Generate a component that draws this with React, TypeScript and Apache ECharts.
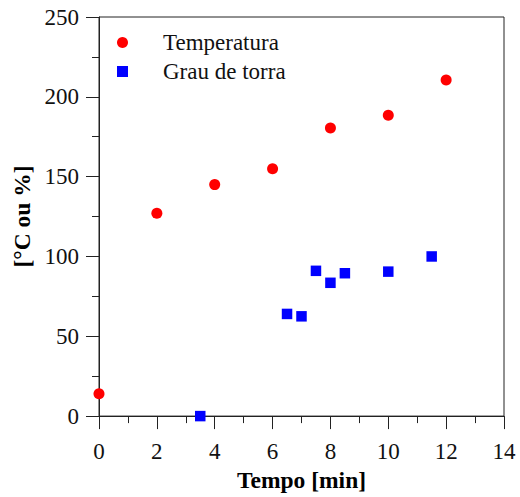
import React, { useEffect, useRef } from "react";
import * as echarts from "echarts";

const tempX = [0, 2, 4, 6, 8, 10, 12];
const tempY = [14, 127, 145, 155, 180.5, 188.5, 210.5];
const grauX = [3.5, 6.5, 7, 7.5, 8, 8.5, 10, 11.5];
const grauY = [0, 64, 62.5, 91, 83.5, 89.5, 90.5, 100];
const seriesNames = ["Temperatura", "Grau de torra"];
const xTitle = "Tempo [min]";
const yTitle = "[°C ou %]";

const FONT = "'Times New Roman', 'Liberation Serif', serif";
const AX = "#222";

export default function App() {
  const ref = useRef<HTMLDivElement>(null);
  useEffect(() => {
    if (!ref.current) return;
    const chart = echarts.init(ref.current, null, { renderer: "svg" });
    const axisCommon = {
      axisLine: { show: true, lineStyle: { color: AX, width: 1 } },
      axisTick: { show: true, inside: false, length: 13, lineStyle: { color: AX, width: 1 } },
      minorTick: { show: true, splitNumber: 2, length: 7, lineStyle: { color: AX, width: 1 } },
      splitLine: { show: false },
      minorSplitLine: { show: false },
      axisLabel: { color: "#111", fontFamily: FONT, fontSize: 23, margin: 20 },
      nameTextStyle: { color: "#000", fontFamily: FONT, fontSize: 23.5, fontWeight: "bold" },
    };
    chart.setOption({
      animation: false,
      grid: {
        left: 99,
        right: 16,
        top: 17,
        bottom: 74,
        show: true,
        borderColor: AX,
        borderWidth: 1,
        backgroundColor: "transparent",
      },
      legend: {
        orient: "vertical",
        left: 112,
        top: 26,
        itemWidth: 11,
        itemHeight: 11,
        itemGap: 6,
        textStyle: {
          fontFamily: FONT,
          fontSize: 23,
          color: "#111",
          lineHeight: 22,
          padding: [0, 0, 0, 30],
        },
        data: [
          { name: seriesNames[0], icon: "circle" },
          { name: seriesNames[1], icon: "rect" },
        ],
      },
      xAxis: {
        type: "value",
        min: 0,
        max: 14,
        interval: 2,
        name: xTitle,
        nameLocation: "middle",
        nameGap: 51,
        ...axisCommon,
        axisLabel: { ...axisCommon.axisLabel, margin: 24 },
      },
      yAxis: {
        type: "value",
        min: 0,
        max: 250,
        interval: 50,
        name: yTitle,
        nameLocation: "middle",
        nameGap: 61,
        ...axisCommon,
      },
      series: [
        {
          name: seriesNames[0],
          type: "scatter",
          symbol: "circle",
          symbolSize: 11,
          itemStyle: { color: "#ff0000", opacity: 1 },
          data: tempX.map((x, i) => [x, tempY[i]]),
          z: 3,
        },
        {
          name: seriesNames[1],
          type: "scatter",
          symbol: "rect",
          symbolSize: 10.5,
          itemStyle: { color: "#0000ff", opacity: 1 },
          data: grauX.map((x, i) => [x, grauY[i]]),
          z: 3,
        },
      ],
    });
    return () => chart.dispose();
  }, []);
  return <div ref={ref} style={{ width: 520, height: 497, position: "absolute", left: 0, top: 0 }} />;
}
